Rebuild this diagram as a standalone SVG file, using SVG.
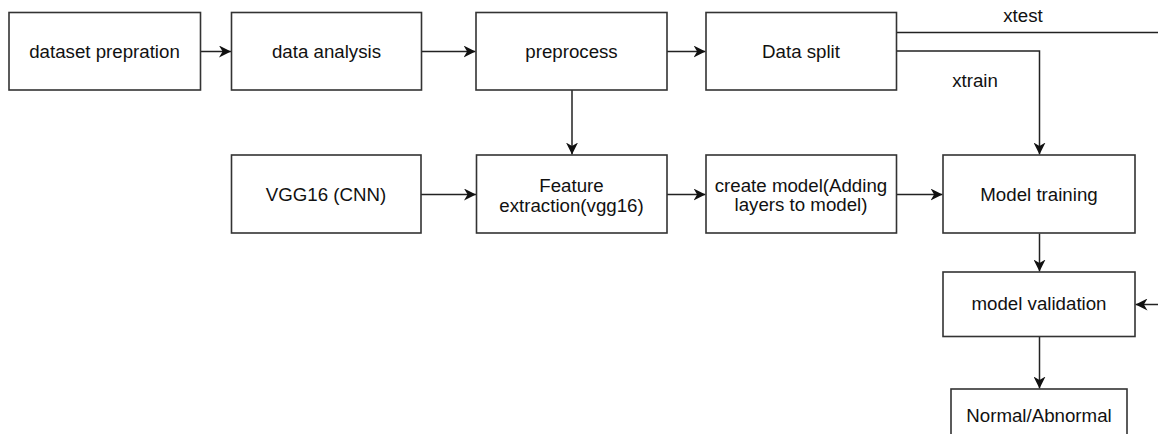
<svg xmlns="http://www.w3.org/2000/svg" width="1158" height="434" viewBox="0 0 1158 434">
<style>
.box{fill:#fff;stroke:#333;stroke-width:1.6}
.t{font-family:"Liberation Sans",Arial,sans-serif;font-size:18.7px;fill:#111;text-anchor:middle;dominant-baseline:central}
.c{fill:none;stroke:#222;stroke-width:1.5}
</style>
<defs>
<marker id="ah" viewBox="0 0 10 10" refX="10" refY="5" markerWidth="12" markerHeight="12" markerUnits="userSpaceOnUse" orient="auto">
<path d="M0,0 L10,5 L0,10 L3,5 z" fill="#111"/>
</marker>
</defs>
<rect width="1158" height="434" fill="#fff"/>
<g id="connectors">
<path class="c" d="M200,51.5 H231" marker-end="url(#ah)"/>
<path class="c" d="M421.5,51.5 H475.5" marker-end="url(#ah)"/>
<path class="c" d="M667,51.5 H705.5" marker-end="url(#ah)"/>
<path class="c" d="M896.5,32.5 H1158"/>
<path class="c" d="M896.5,51 H1039.5 V154.5" marker-end="url(#ah)"/>
<path class="c" d="M572,90 V154.5" marker-end="url(#ah)"/>
<path class="c" d="M421,194.5 H476" marker-end="url(#ah)"/>
<path class="c" d="M667,194.5 H705.5" marker-end="url(#ah)"/>
<path class="c" d="M896.5,194.5 H942.5" marker-end="url(#ah)"/>
<path class="c" d="M1039.5,233.5 V271.5" marker-end="url(#ah)"/>
<path class="c" d="M1158,304.5 H1135.5" marker-end="url(#ah)"/>
<path class="c" d="M1039.5,336.5 V388.5" marker-end="url(#ah)"/>
<text class="t" x="1023" y="15.5">xtest</text>
<text class="t" x="975" y="80.5">xtrain</text>
</g>
<g id="dataset-prepration"><rect class="box" x="9" y="12.5" width="191.5" height="77.5"/><text class="t" x="104.5" y="51">dataset prepration</text></g>
<g id="data-analysis"><rect class="box" x="231.5" y="12.5" width="190" height="77.5"/><text class="t" x="326.5" y="51">data analysis</text></g>
<g id="preprocess"><rect class="box" x="476" y="12.5" width="191" height="77.5"/><text class="t" x="571.5" y="51">preprocess</text></g>
<g id="data-split"><rect class="box" x="706" y="12.5" width="190.5" height="77.5"/><text class="t" x="801" y="51">Data split</text></g>
<g id="vgg16"><rect class="box" x="231.5" y="155" width="189.5" height="78"/><text class="t" x="326" y="194">VGG16 (CNN)</text></g>
<g id="feature-extraction"><rect class="box" x="476.5" y="155" width="190.5" height="78"/><text class="t" x="571.5" y="185">Feature</text><text class="t" x="571.5" y="205">extraction(vgg16)</text></g>
<g id="create-model"><rect class="box" x="706" y="155" width="190.5" height="78"/><text class="t" x="801" y="185">create model(Adding</text><text class="t" x="801" y="204">layers to model)</text></g>
<g id="model-training"><rect class="box" x="943" y="155" width="192" height="78"/><text class="t" x="1039" y="194">Model training</text></g>
<g id="model-validation"><rect class="box" x="943" y="272" width="192" height="64.5"/><text class="t" x="1039" y="303.5">model validation</text></g>
<g id="normal-abnormal"><rect class="box" x="951" y="389" width="176" height="60"/><text class="t" x="1039" y="415">Normal/Abnormal</text></g>
</svg>
